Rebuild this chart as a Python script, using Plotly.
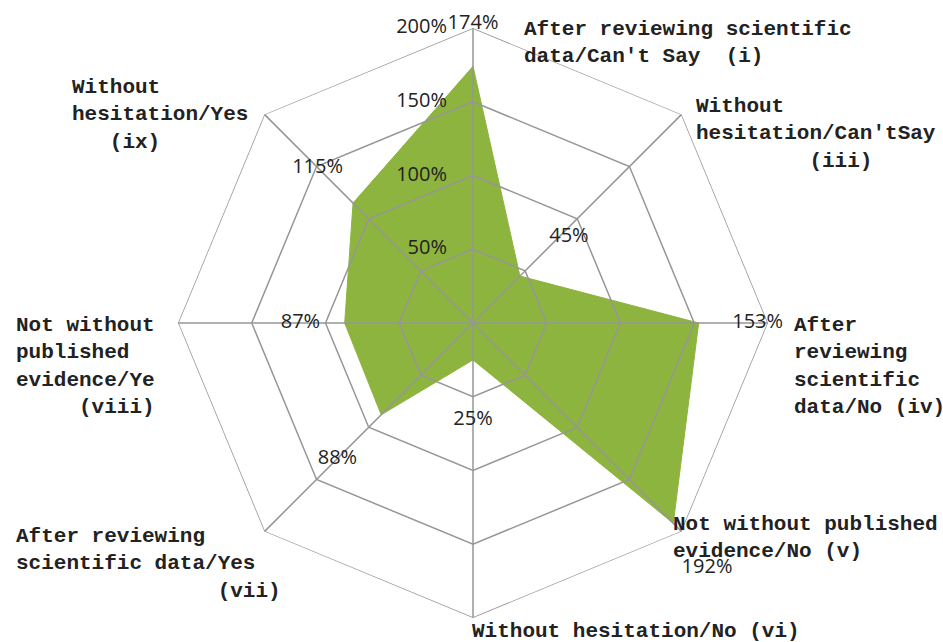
import plotly.graph_objects as go

# categories in clockwise order, starting at the top
categories = [
    "After reviewing scientific data/Can't Say (i)",
    "Without hesitation/Can'tSay (iii)",
    "After reviewing scientific data/No (iv)",
    "Not without published evidence/No (v)",
    "Without hesitation/No (vi)",
    "After reviewing scientific data/Yes (vii)",
    "Not without published evidence/Ye (viii)",
    "Without hesitation/Yes (ix)",
]
values = [174, 45, 153, 192, 25, 88, 87, 115]
radial_ticks = [0, 50, 100, 150, 200]

# how the category names are broken over lines in the picture
category_text = [
    "After reviewing scientific<br>data/Can't Say\u00a0\u00a0(i)",
    "Without<br>hesitation/Can'tSay<br>" + "\u00a0" * 9 + "(iii)",
    "After<br>reviewing<br>scientific<br>data/No (iv)",
    "Not without published<br>evidence/No (v)",
    "Without hesitation/No (vi)",
    "After reviewing<br>scientific data/Yes<br>" + "\u00a0" * 16 + "(vii)",
    "Not without<br>published<br>evidence/Ye<br>\u00a0\u00a0\u00a0\u00a0\u00a0(viii)",
    "Without<br>hesitation/Yes<br>\u00a0\u00a0\u00a0(ix)",
]

# layout / placement (pixels)
W, H = 943, 642
L, T, SIDE = 178, 28, 590
label_xy = [(522, 30), (694, 107), (792, 326), (671, 525),
            (470, 632), (14, 537), (14, 326), (70, 88)]
# where each value label sits (radius) and how it hangs off that point
value_label_r = [196, 92, 193, 200, 66, 130, 117, 149]
value_label_pos = ["top center", "bottom center", "middle center",
                   "bottom right", "middle center", "middle center",
                   "middle center", "middle center"]
value_label_pre = ["", "", "", "<br>", "", "", "", ""]

GRID = "#969696"
GREEN = "#8db43e"
MONO = "Liberation Mono"
SANS = "Open Sans"
INK = "#222222"


def px_x(x):
    return (x - L) / SIDE


def px_y(y):
    return 1 - (y - T) / SIDE


fig = go.Figure()

# filled data polygon
fig.add_trace(go.Scatterpolar(
    r=values + values[:1],
    theta=categories + categories[:1],
    mode="lines",
    fill="toself",
    fillcolor=GREEN,
    line=dict(color=GREEN, width=1),
    hoverinfo="skip",
    showlegend=False,
))

# grid drawn on top of the fill, as in the original
for level in radial_ticks[1:]:
    fig.add_trace(go.Scatterpolar(
        r=[level] * (len(categories) + 1),
        theta=categories + categories[:1],
        mode="lines",
        line=dict(color=GRID, width=1.5),
        hoverinfo="skip",
        showlegend=False,
    ))

spoke_r, spoke_t = [], []
for c in categories:
    spoke_r += [0, radial_ticks[-1], None]
    spoke_t += [c, c, None]
fig.add_trace(go.Scatterpolar(
    r=spoke_r, theta=spoke_t, mode="lines",
    line=dict(color=GRID, width=1.5),
    hoverinfo="skip", showlegend=False,
))

# data labels
fig.add_trace(go.Scatterpolar(
    r=value_label_r,
    theta=categories,
    mode="text",
    text=[f"{p}{v}%" for p, v in zip(value_label_pre, values)],
    textposition=value_label_pos,
    textfont=dict(family=SANS, size=20, color=INK),
    cliponaxis=False,
    hoverinfo="skip",
    showlegend=False,
))

# radial tick labels, left of the vertical axis
fig.add_trace(go.Scatterpolar(
    r=radial_ticks,
    theta=[categories[0]] * len(radial_ticks),
    mode="text",
    text=[f"{t}%" + "\u00a0" * 5 for t in radial_ticks],
    textposition="middle left",
    textfont=dict(family=SANS, size=20, color=INK),
    cliponaxis=False,
    hoverinfo="skip",
    showlegend=False,
))

for txt, (x, y) in zip(category_text, label_xy):
    fig.add_annotation(
        text=f"<b>{txt}</b>", xref="paper", yref="paper",
        x=px_x(x), y=px_y(y - 14),
        xanchor="left", yanchor="top", align="left",
        showarrow=False,
        font=dict(family=MONO, size=21, color=INK),
    )

fig.update_layout(
    width=W, height=H,
    margin=dict(l=L, r=W - L - SIDE, t=T, b=H - T - SIDE),
    paper_bgcolor="white",
    plot_bgcolor="white",
    showlegend=False,
    polar=dict(
        bgcolor="white",
        gridshape="linear",
        radialaxis=dict(range=[0, 200], showgrid=False, showline=False,
                        showticklabels=False, ticks=""),
        angularaxis=dict(direction="clockwise", rotation=90,
                         showgrid=False, showline=False,
                         showticklabels=False, ticks=""),
    ),
)

# drop the page margin so the 943x642 figure fills the window exactly
fig.write_html(
    "out.html",
    config={"displayModeBar": False},
    post_script="document.body.style.margin='0';"
                "document.body.style.overflow='hidden';",
)
